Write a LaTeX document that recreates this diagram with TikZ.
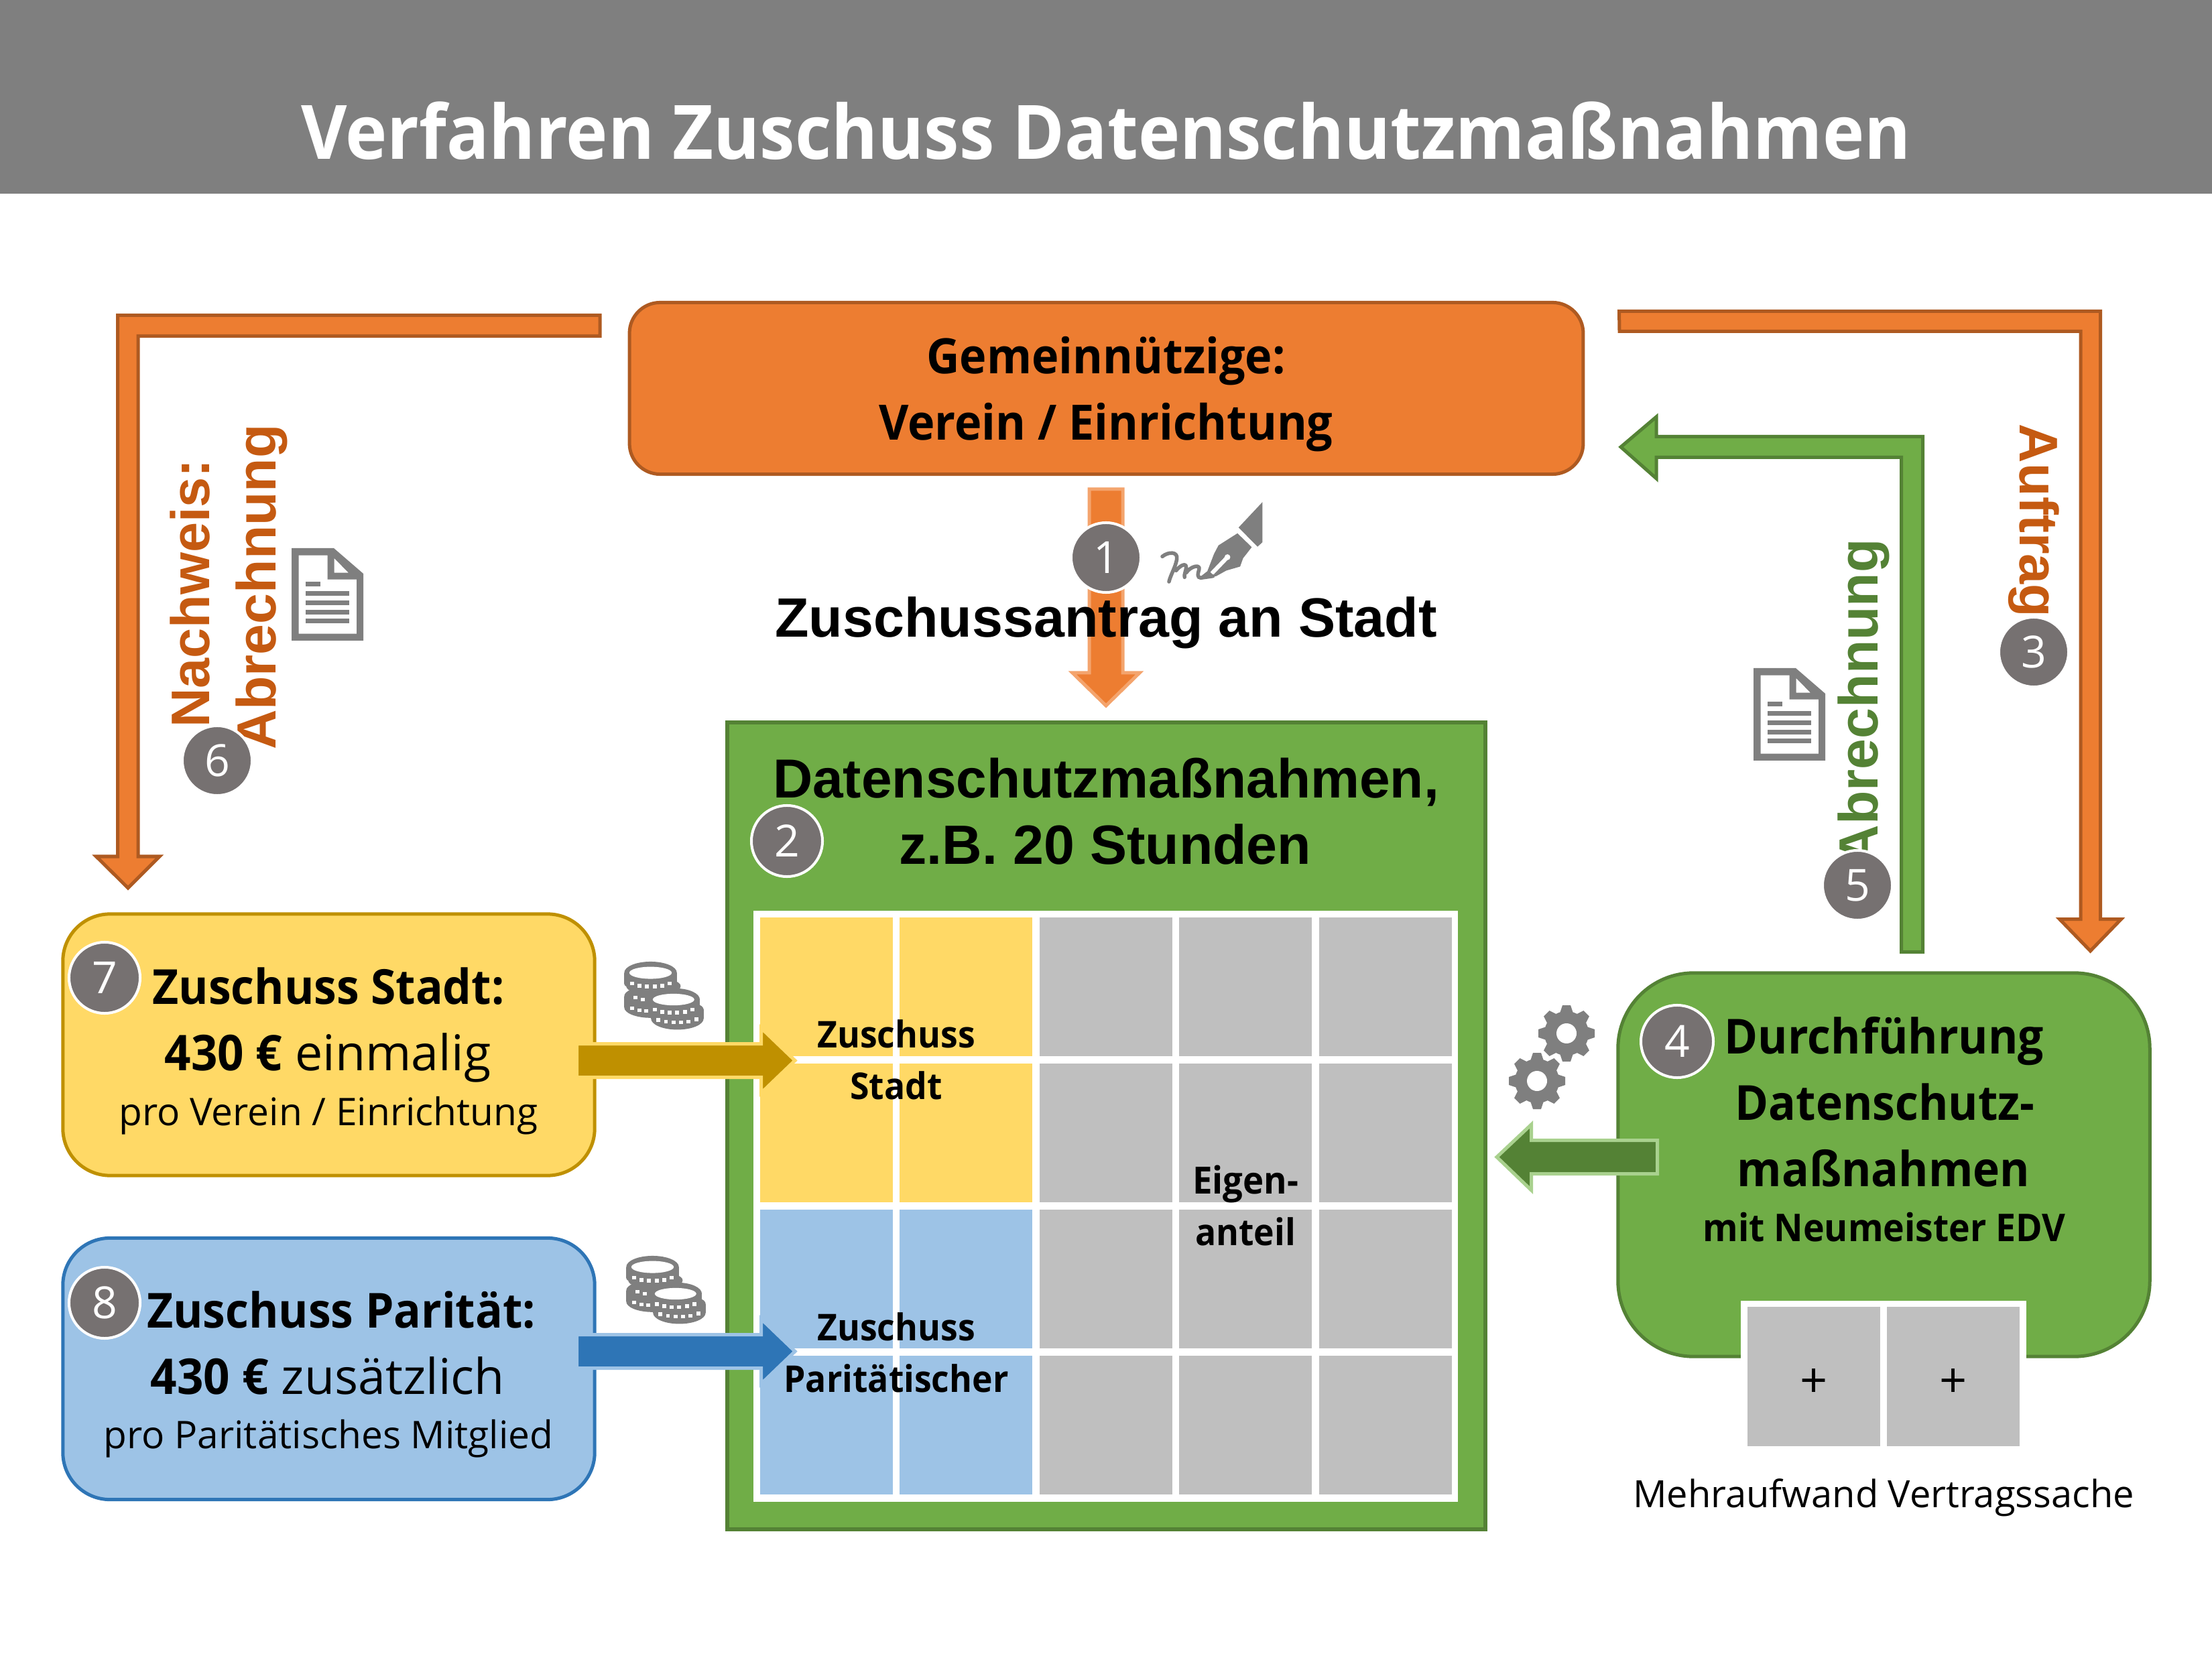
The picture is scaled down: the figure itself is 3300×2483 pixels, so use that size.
\documentclass[tikz,border=0pt]{standalone}
\usepackage{fontspec}
\setmainfont{Open Sans}[BoldFeatures={FakeStretch=0.94}]
\newfontfamily\ar{Liberation Sans}
\newcommand\px[1]{\fontsize{\fpeval{#1*0.28453}}{\fpeval{#1*0.34}}\selectfont}
\definecolor{hdr}{HTML}{7F7F7F}
\definecolor{ora}{HTML}{ED7D31}
\definecolor{orad}{HTML}{AE5A21}
\definecolor{oral}{HTML}{F4A46D}
\definecolor{orat}{HTML}{C55A11}
\definecolor{grn}{HTML}{70AD47}
\definecolor{grnd}{HTML}{548235}
\definecolor{grnl}{HTML}{A9D18E}
\definecolor{yel}{HTML}{FFD966}
\definecolor{yeld}{HTML}{BF9000}
\definecolor{blu}{HTML}{9DC3E6}
\definecolor{blud}{HTML}{2E75B6}
\definecolor{cel}{HTML}{BFBFBF}
\definecolor{ico}{HTML}{7F7F7F}
\definecolor{num}{HTML}{767171}
\usetikzlibrary{calc}
\tikzset{
  x=0.01cm,y=-0.01cm,
  txt/.style={anchor=base,inner sep=0pt,outer sep=0pt,text=black},
  box/.style={rounded corners=#1,line width=0.5mm,inner sep=0pt,outer sep=0pt},
  numc/.style={circle,fill=num,draw=white,line width=0.4mm,minimum size=1.04cm,inner sep=0pt,text=white,font=\px{66}},
  blk/.style={line width=0.5mm,miter limit=10,line join=miter},
  docicon/.pic={
    \fill[ico,even odd rule] (0,0)--(63,0)--(107,38)--(107,138)--(0,138)--cycle
       (10.6,10.6)--(53.6,10.6)--(53.6,46.7)--(97,46.7)--(97,127.7)--(10.6,127.7)--cycle
       (63.7,15)--(85,36.7)--(63.7,36.7)--cycle;
    \fill[ico] (21,50) rectangle (43,57);
    \foreach \yy in {64,78,92,105}{\fill[ico] (21,\yy) rectangle (86,\yy+7);}
  },
  gearicon/.pic={
    \fill[ico] (0,0) circle[radius=33];
    \foreach \a in {0,45,...,315}{\fill[ico,rotate=\a] (-10,30)--(-6,42)--(6,42)--(10,30)--cycle;}
    \fill[white] (0,0) circle[radius=15];
  },
  coinicon/.pic={
    \begin{scope}[x=0.003333cm,y=-0.003333cm]
      \fill[ico] (272,155) ellipse[x radius=118,y radius=50];
      \fill[ico] (154,155) rectangle (390,205);
      \fill[ico] (272,205) ellipse[x radius=118,y radius=30];
      \fill[ico] (285,215) ellipse[x radius=122,y radius=40];
      \fill[ico] (272,260) ellipse[x radius=118,y radius=45];
      \fill[ico] (154,260) rectangle (390,310);
      \fill[ico] (272,310) ellipse[x radius=118,y radius=47];
      \fill[white] (272,155) ellipse[x radius=95,y radius=27];
      \foreach \xx/\yy in {188/202,222/212,256/215,290/215,324/212,357/202,205/265,238/274,188/313,222/322,252/325}{
        \fill[white] (\xx-9,\yy-8) rectangle (\xx+9,\yy+9);}
      \fill[ico] (384,275) ellipse[x radius=109,y radius=50];
      \fill[ico] (275,275) rectangle (493,320);
      \fill[ico] (392,320) ellipse[x radius=118,y radius=40];
      \fill[ico] (274,320) rectangle (510,360);
      \fill[ico] (392,360) ellipse[x radius=118,y radius=50];
      \fill[white] (375,275) ellipse[x radius=93,y radius=26];
      \foreach \xx/\yy in {290/320,323/330,357/334,392/334,426/330,460/320,307/367,341/374,375/377,409/377,443/374,477/364}{
        \fill[white] (\xx-9,\yy-8) rectangle (\xx+9,\yy+9);}
    \end{scope}
  },
  penicon/.pic={
    \begin{scope}[x=0.003333cm,y=-0.003333cm]
      \fill[ico] (1045,322)--(1152,208)--(1152,388)--(1130,408)--cycle;
      \fill[ico] (1040,348)--(1104,410)--(1065,460)--(1052,497)--(990,515)--(945,540)--(860,553)--(905,518)--(935,440)--(955,402)--cycle;
      \draw[white,line width=0.06cm] (995,455)--(925,528);
      \fill[white] (995,455) circle[radius=13];
      \draw[ico,line width=0.055cm,line cap=round,line join=round]
        (703,452) .. controls (730,430) and (775,428) .. (768,465) .. controls (762,500) and (740,535) .. (733,565)
        (765,515) .. controls (785,490) and (810,480) .. (810,500) .. controls (810,515) and (800,530) .. (803,545)
        (810,525) .. controls (830,495) and (875,485) .. (868,510) .. controls (862,530) and (858,545) .. (875,548) -- (930,540);
    \end{scope}
  }
}
\begin{document}
\begin{tikzpicture}
\useasboundingbox (0,0) rectangle (3300,2483);
\fill[white] (0,0) rectangle (3300,2483);
% header
\fill[hdr] (0,0) rectangle (3300,289);
\node[txt,text=white,font=\bfseries\px{112}] (title) at (1650,238) {Verfahren Zuschuss Datenschutzmaßnahmen};

% nodes
\node[box=13pt,draw=orad,fill=ora,minimum width=14.22cm,minimum height=2.56cm] (top) at (1650.5,579.5) {};
\node[txt,font=\bfseries\px{72.7}] (top1) at (1650,558) {Gemeinnützige:};
\node[txt,font=\bfseries\px{72.7}] (top2) at (1650,657) {Verein / Einrichtung};

% arrow 1
\coordinate (a1s) at (1650,730);
\draw[blk,draw=oral,fill=ora] (a1s) ++(-25,0) -- ++(50,0) -- ++(0,274) -- ++(25,0) -- ++(-50,49) -- ++(-50,-49) -- ++(25,0) -- cycle;
\node[numc] (n1) at (1650,832) {1};
\pic at (1500,680) {penicon};
\node[txt,font=\ar\bfseries\px{82.6}] (antrag) at (1650,951) {Zuschussantrag an Stadt};

% left L arrow
\coordinate (a6s) at (895,470.5);
\draw[blk,draw=orad,fill=ora] (a6s) -- ++(-719.5,0) -- ++(0,807.5) -- ++(-32,0) -- ++(47.5,47) -- ++(47,-47) -- ++(-32,0) -- ++(0,-776.5) -- ++(689,0) -- cycle;
\node[txt,anchor=base west,rotate=90,text=orat,font=\ar\bfseries\px{81}] (nach) at (312,1086) {Nachweis:};
\node[txt,anchor=base west,rotate=90,text=orat,font=\ar\bfseries\px{82.4}] (abr6) at (411,1119) {Abrechnung};
\pic at (435,818) {docicon};
\node[numc] (n6) at (324,1135) {6};

% right L arrow
\coordinate (a3s) at (2415.5,464.5);
\draw[blk,draw=orad,fill=ora] (a3s) -- ++(718,0) -- ++(0,907) -- ++(31,0) -- ++(-46,47.5) -- ++(-46,-47.5) -- ++(31.5,0) -- ++(0,-877) -- ++(-688,0) -- cycle;
\node[txt,anchor=base west,rotate=-90,text=orat,font=\ar\bfseries\px{81}] (auf) at (3013,633) {Auftrag};
\node[numc] (n3) at (3034,973) {3};

% green L arrow
\coordinate (a5s) at (2868.5,1420.5);
\draw[blk,draw=grnd,fill=grn] (a5s) -- ++(0,-769) -- ++(-397.5,0) -- ++(0,-29.5) -- ++(-53,45) -- ++(53,47) -- ++(0,-31.5) -- ++(365.5,0) -- ++(0,738) -- cycle;
\node[txt,anchor=base west,rotate=90,text=grnd,font=\ar\bfseries\px{82.4}] (abr5) at (2801,1290) {Abrechnung};
\pic at (2616,997) {docicon};
\node[numc] (n5) at (2771,1321) {5};

% big green block
\node[draw=grnd,fill=grn,line width=0.55mm,inner sep=0pt,outer sep=0pt,minimum width=11.3cm,minimum height=12.03cm] (mass) at (1650.5,1680) {};
\node[txt,font=\ar\bfseries\px{82}] (mass1) at (1650,1190) {Datenschutzmaßnahmen,};
\node[txt,font=\ar\bfseries\px{82.5}] (mass2) at (1649,1289) {z.B. 20 Stunden};
\node[numc,minimum size=1.06cm] (n2) at (1174,1255) {2};
% grid
\fill[white] (1124,1359) rectangle (2175,2241);
\foreach \cx [count=\i] in {1134,1342,1551,1759,1968}{
  \foreach \cy [count=\j] in {1369,1587,1805,2023}{
    \ifnum\i<3
      \ifnum\j<3 \def\cc{yel}\else\def\cc{blu}\fi
    \else \def\cc{cel}\fi
    \fill[\cc] (\cx,\cy) rectangle +(198,207);
  }
}

% funding boxes
\node[box=20pt,draw=yeld,fill=yel,minimum width=7.93cm,minimum height=3.9cm] (stadt) at (490.5,1559) {};
\node[box=20pt,draw=blud,fill=blu,minimum width=7.93cm,minimum height=3.9cm] (parit) at (490.5,2042.5) {};
\coordinate (a7s) at (860.5,1557.5);
\draw[blk,draw=yel,fill=yeld] (a7s) -- (1135.5,1557.5) -- (1135.5,1534) -- (1186,1582.5) -- (1135.5,1631) -- (1135.5,1607.5) -- ++(-275,0) -- cycle;
\coordinate (a8s) at (860.5,1991.5);
\draw[blk,draw=blu,fill=blud] (a8s) -- (1135.5,1991.5) -- (1135.5,1968) -- (1186,2016.5) -- (1135.5,2065) -- (1135.5,2041.5) -- ++(-275,0) -- cycle;
\pic at (880,1400) {coinicon};
\pic at (883,1839) {coinicon};
\node[numc,minimum size=1.06cm] (n7) at (156,1459) {7};
\node[numc,minimum size=1.06cm] (n8) at (156,1944) {8};
\node[txt,font=\bfseries\px{72}] (s1) at (490,1498) {Zuschuss Stadt:};
\node[txt,font=\px{73.5}] (s2) at (489,1597) {\textbf{430 €} einmalig};
\node[txt,font=\px{56.8}] (s3) at (490,1679) {pro Verein / Einrichtung};
\node[txt,font=\bfseries\px{72}] (p1) at (509,1981) {Zuschuss Parität:};
\node[txt,font=\px{73.5}] (p2) at (489,2080) {\textbf{430 €} zusätzlich};
\node[txt,font=\px{56.8}] (p3) at (490,2161) {pro Paritätisches Mitglied};
\node[txt,font=\bfseries\px{55}] (g1) at (1337,1563) {Zuschuss};
\node[txt,font=\bfseries\px{55}] (g2) at (1337,1640) {Stadt};
\node[txt,font=\bfseries\px{55}] (g3) at (1337,2000) {Zuschuss};
\node[txt,font=\bfseries\px{55}] (g4) at (1337,2077) {Paritätischer};
\node[txt,font=\bfseries\px{56}] (g5) at (1858,1781) {Eigen-};
\node[txt,font=\bfseries\px{55}] (g6) at (1858,1858) {anteil};

% right green box
\node[box=32pt,draw=grnd,fill=grn,minimum width=7.93cm,minimum height=5.72cm] (durch) at (2810.5,1738) {};
\coordinate (a4s) at (2472.5,1701.5);
\draw[blk,draw=grnl,fill=grnd] (a4s) -- ++(-188,0) -- ++(0,-23.5) -- (2233,1726.5) -- (2284.5,1776) -- ++(0,-24.5) -- ++(188,0) -- cycle;
\pic at (2337,1542) {gearicon};
\pic at (2293,1613) {gearicon};
\node[numc,minimum size=1.08cm] (n4) at (2502,1554) {4};
\node[txt,font=\bfseries\px{72}] (d1) at (2811,1572) {Durchführung};
\node[txt,font=\bfseries\px{72}] (d2) at (2812,1671) {Datenschutz-};
\node[txt,font=\bfseries\px{72}] (d3) at (2810,1770) {maßnahmen};
\node[txt,font=\bfseries\px{57}] (d4) at (2811,1852) {mit Neumeister EDV};
\fill[white] (2597,1941) rectangle (3023,2168);
\fill[cel] (2607,1950) rectangle (2805,2158);
\fill[cel] (2815,1950) rectangle (3013,2158);
\node[font=\px{72},inner sep=0pt] (pl1) at (2706,2064) {+};
\node[font=\px{72},inner sep=0pt] (pl2) at (2914,2064) {+};
\node[txt,font=\px{56}] (meh) at (2810,2249) {Mehraufwand Vertragssache};
\end{tikzpicture}
\end{document}
